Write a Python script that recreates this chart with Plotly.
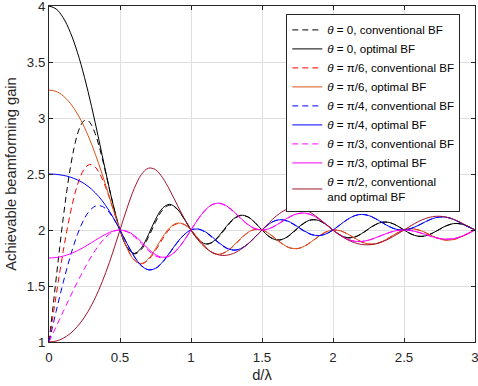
import plotly.graph_objects as go

# sample positions (d / lambda)
D_OPT = [round(0.05 * i, 3) for i in range(61)]
D_CONV = [round(0.025 * i, 3) for i in range(21)] + [round(0.05 * i, 3) for i in range(11, 61)]

# optimal BF gain
OPT_0 = [4.0, 3.9738, 3.8952, 3.7654, 3.5866, 3.3630, 3.1013, 2.8132, 2.5160, 2.2346, 2.0,
         1.8447, 1.7913, 1.8393, 1.9579, 2.0943, 2.1955, 2.2292, 2.1919, 2.1041, 2.0,
         1.9151, 1.8759, 1.8921, 1.9531, 2.0330, 2.1004, 2.1315, 2.1176, 2.0669, 2.0,
         1.9416, 1.9119, 1.9199, 1.9605, 2.0167, 2.0666, 2.0919, 2.0847, 2.0493, 2.0,
         1.9555, 1.9317, 1.9365, 1.9668, 2.0101, 2.0496, 2.0706, 2.0662, 2.0390, 2.0,
         1.9640, 1.9443, 1.9475, 1.9716, 2.0067, 2.0394, 2.0573, 2.0543, 2.0323, 2.0]
OPT_30 = [3.25, 3.2371, 3.1974, 3.1312, 3.0375, 2.9157, 2.7664, 2.5917, 2.3974, 2.1944, 2.0,
          1.8378, 1.7326, 1.7011, 1.7418, 1.8320, 1.9363, 2.0200, 2.0605, 2.0512, 2.0,
          1.9253, 1.8508, 1.7987, 1.7837, 1.8082, 1.8614, 1.9247, 1.9776, 2.0047, 2.0,
          1.9672, 1.9185, 1.8706, 1.8392, 1.8341, 1.8563, 1.8977, 1.9445, 1.9823, 2.0,
          1.9935, 1.9667, 1.9294, 1.8950, 1.8752, 1.8767, 1.8988, 1.9343, 1.9718, 2.0,
          2.0107, 2.0018, 1.9776, 1.9471, 1.9213, 1.9093, 1.9153, 1.9377, 1.9692, 2.0]
OPT_45 = [2.5, 2.4971, 2.4881, 2.4721, 2.4476, 2.4124, 2.3640, 2.2996, 2.2171, 2.1161, 2.0,
          1.8780, 1.7657, 1.6825, 1.6447, 1.6579, 1.7147, 1.7973, 1.8843, 1.9564, 2.0,
          2.0088, 1.9848, 1.9377, 1.8836, 1.8400, 1.8212, 1.8336, 1.8750, 1.9352, 2.0,
          2.0543, 2.0865, 2.0907, 2.0692, 2.0311, 1.9901, 1.9597, 1.9501, 1.9647, 2.0,
          2.0468, 2.0928, 2.1264, 2.1394, 2.1296, 2.1014, 2.0639, 2.0285, 2.0052, 2.0,
          2.0134, 2.0406, 2.0731, 2.1010, 2.1159, 2.1134, 2.0942, 2.0634, 2.0292, 2.0]
OPT_60 = [1.75, 1.7542, 1.7667, 1.7873, 1.8151, 1.8491, 1.8873, 1.9267, 1.9628, 1.9896, 2.0,
          1.9879, 1.9511, 1.8945, 1.8314, 1.7800, 1.7567, 1.7707, 1.8220, 1.9028, 2.0,
          2.0971, 2.1775, 2.2275, 2.2397, 2.2160, 2.1663, 2.1058, 2.0504, 2.0129, 2.0,
          2.0120, 2.0431, 2.0835, 2.1215, 2.1464, 2.1513, 2.1344, 2.0987, 2.0511, 2.0,
          1.9538, 1.9191, 1.9001, 1.8977, 1.9095, 1.9310, 1.9561, 1.9789, 1.9945, 2.0,
          1.9947, 1.9803, 1.9605, 1.9402, 1.9246, 1.9181, 1.9234, 1.9407, 1.9676, 2.0]
OPT_90 = [1.0, 1.0083, 1.0333, 1.0762, 1.1384, 1.2220, 1.3293, 1.4621, 1.6209, 1.8030, 2.0,
          2.1964, 2.3694, 2.4941, 2.5518, 2.5388, 2.4667, 2.3571, 2.2320, 2.1092, 2.0,
          1.9105, 1.8432, 1.7986, 1.7760, 1.7741, 1.7914, 1.8259, 1.8747, 1.9344, 2.0,
          2.0655, 2.1242, 2.1693, 2.1955, 2.2001, 2.1836, 2.1496, 2.1036, 2.0517, 2.0,
          1.9531, 1.9147, 1.8870, 1.8713, 1.8679, 1.8765, 1.8961, 1.9250, 1.9607, 2.0,
          2.0393, 2.0746, 2.1021, 2.1188, 2.1229, 2.1143, 2.0946, 2.0667, 2.0339, 2.0]

# conventional BF gain
CONV_0 = [1.0, 1.2785, 1.5626, 1.8418, 2.1058, 2.3459, 2.5541, 2.7247, 2.8533, 2.9378, 2.9782,
          2.9763, 2.9356, 2.8614, 2.7601, 2.6390, 2.5059, 2.3684, 2.2340, 2.1093, 2.0,
          1.8443, 1.7869, 1.8258, 1.9355, 2.0705, 2.1786, 2.2215, 2.1900, 2.1040, 2.0,
          1.9150, 1.8747, 1.8880, 1.9459, 2.0249, 2.0943, 2.1285, 2.1168, 2.0669, 2.0,
          1.9416, 1.9113, 1.9179, 1.9569, 2.0126, 2.0634, 2.0903, 2.0843, 2.0493, 2.0,
          1.9555, 1.9314, 1.9353, 1.9647, 2.0076, 2.0476, 2.0696, 2.0659, 2.0390, 2.0,
          1.9640, 1.9441, 1.9467, 1.9702, 2.0050, 2.0381, 2.0566, 2.0541, 2.0323, 2.0]
CONV_30 = [1.0, 1.2063, 1.4136, 1.6163, 1.8095, 1.9885, 2.1490, 2.2875, 2.4012, 2.4884, 2.5478,
           2.5793, 2.5838, 2.5630, 2.5193, 2.4563, 2.3776, 2.2879, 2.1919, 2.0943, 2.0,
           1.8377, 1.7324, 1.6982, 1.7328, 1.8173, 1.9206, 2.0086, 2.0553, 2.0501, 2.0,
           1.9250, 1.8505, 1.7987, 1.7832, 1.8062, 1.8580, 1.9212, 1.9755, 2.0041, 2.0,
           1.9668, 1.9178, 1.8700, 1.8391, 1.8341, 1.8558, 1.8968, 1.9437, 1.9820, 2.0,
           1.9932, 1.9659, 1.9284, 1.8943, 1.8749, 1.8767, 1.8987, 1.9341, 1.9717, 2.0,
           2.0106, 2.0012, 1.9765, 1.9460, 1.9205, 1.9090, 1.9152, 1.9377, 1.9692, 2.0]
CONV_45 = [1.0, 1.1362, 1.2715, 1.4038, 1.5313, 1.6522, 1.7649, 1.8676, 1.9591, 2.0380, 2.1035,
           2.1546, 2.1909, 2.2121, 2.2185, 2.2105, 2.1890, 2.1553, 2.1111, 2.0585, 2.0,
           1.8763, 1.7631, 1.6813, 1.6447, 1.6571, 1.7118, 1.7933, 1.8812, 1.9554, 2.0,
           2.0077, 1.9813, 1.9324, 1.8783, 1.8364, 1.8196, 1.8332, 1.8750, 1.9352, 2.0,
           2.0541, 2.0856, 2.0884, 2.0656, 2.0270, 1.9866, 1.9576, 1.9493, 1.9645, 2.0,
           2.0468, 2.0928, 2.1264, 2.1391, 2.1289, 2.1003, 2.0628, 2.0278, 2.0050, 2.0,
           2.0132, 2.0401, 2.0725, 2.1005, 2.1157, 2.1134, 2.0942, 2.0634, 2.0292, 2.0]
CONV_60 = [1.0, 1.0681, 1.1363, 1.2044, 1.2722, 1.3394, 1.4058, 1.4711, 1.5350, 1.5970, 1.6567,
           1.7137, 1.7674, 1.8171, 1.8624, 1.9023, 1.9363, 1.9636, 1.9837, 1.9959, 2.0,
           1.9840, 1.9401, 1.8789, 1.8161, 1.7687, 1.7505, 1.7683, 1.8215, 1.9028, 2.0,
           2.0971, 2.1772, 2.2262, 2.2370, 2.2119, 2.1619, 2.1022, 2.0484, 2.0123, 2.0,
           2.0115, 2.0416, 2.0811, 2.1189, 2.1443, 2.1501, 2.1339, 2.0986, 2.0511, 2.0,
           1.9538, 1.9190, 1.8997, 1.8969, 1.9082, 1.9296, 1.9549, 1.9782, 1.9943, 2.0,
           1.9945, 1.9797, 1.9596, 1.9392, 1.9238, 1.9176, 1.9232, 1.9407, 1.9676, 2.0]

X_TICKS = [0, 0.5, 1, 1.5, 2, 2.5, 3]
Y_TICKS = [1, 1.5, 2, 2.5, 3, 3.5, 4]

SERIES = [
    ("<i>θ</i> = 0, conventional BF", D_CONV, CONV_0, "#000000", "6px,4px"),
    ("<i>θ</i> = 0, optimal BF", D_OPT, OPT_0, "#000000", "solid"),
    ("<i>θ</i> = π/6, conventional BF", D_CONV, CONV_30, "#FF0000", "6px,4px"),
    ("<i>θ</i> = π/6, optimal BF", D_OPT, OPT_30, "#D95319", "solid"),
    ("<i>θ</i> = π/4, conventional BF", D_CONV, CONV_45, "#0000FF", "6px,4px"),
    ("<i>θ</i> = π/4, optimal BF", D_OPT, OPT_45, "#0000FF", "solid"),
    ("<i>θ</i> = π/3, conventional BF", D_CONV, CONV_60, "#FF00FF", "6px,4px"),
    ("<i>θ</i> = π/3, optimal BF", D_OPT, OPT_60, "#FF00FF", "solid"),
    ("<i>θ</i> = π/2, conventional<br>and optimal BF", D_OPT, OPT_90, "#A2142F", "solid"),
]

FONT = "Liberation Sans, Arial, Helvetica, sans-serif"
AX = "#262626"

fig = go.Figure()
for name, xs, ys, color, dash in SERIES:
    fig.add_trace(go.Scatter(
        x=xs, y=ys, mode="lines", name=name,
        line=dict(color=color, width=1, dash=dash, shape="spline", smoothing=1.0),
    ))

axis_common = dict(
    showline=True, linecolor=AX, linewidth=1, mirror="ticks",
    ticks="inside", ticklen=4, tickwidth=1, tickcolor=AX,
    showgrid=True, gridcolor="#dfdfdf", gridwidth=1, zeroline=False,
    tickfont=dict(family=FONT, size=13.3, color=AX),
    automargin=False, ticklabeloverflow="allow",
)

fig.update_layout(
    width=478, height=386,
    margin=dict(l=49, r=3, t=6, b=44),
    paper_bgcolor="white", plot_bgcolor="white",
    font=dict(family=FONT, size=13.3, color=AX),
    xaxis=dict(range=[0, 3], tickvals=X_TICKS, ticklabelstandoff=3,
               title=dict(text="d/λ", font=dict(family=FONT, size=14.7, color=AX), standoff=5),
               **axis_common),
    yaxis=dict(range=[1, 4], tickvals=Y_TICKS,
               title=dict(text="Achievable beamforming gain", font=dict(family=FONT, size=14.7, color=AX), standoff=6),
               **axis_common),
    legend=dict(x=0.557, y=0.975, xanchor="left", yanchor="top",
                bgcolor="white", bordercolor=AX, borderwidth=1,
                font=dict(family=FONT, size=11.6, color="#000000"),
                itemwidth=30, tracegroupgap=0),
    showlegend=True,
)

fig.write_html("out.html", config={"displayModeBar": False},
               post_script="document.body.style.margin='0px';")
